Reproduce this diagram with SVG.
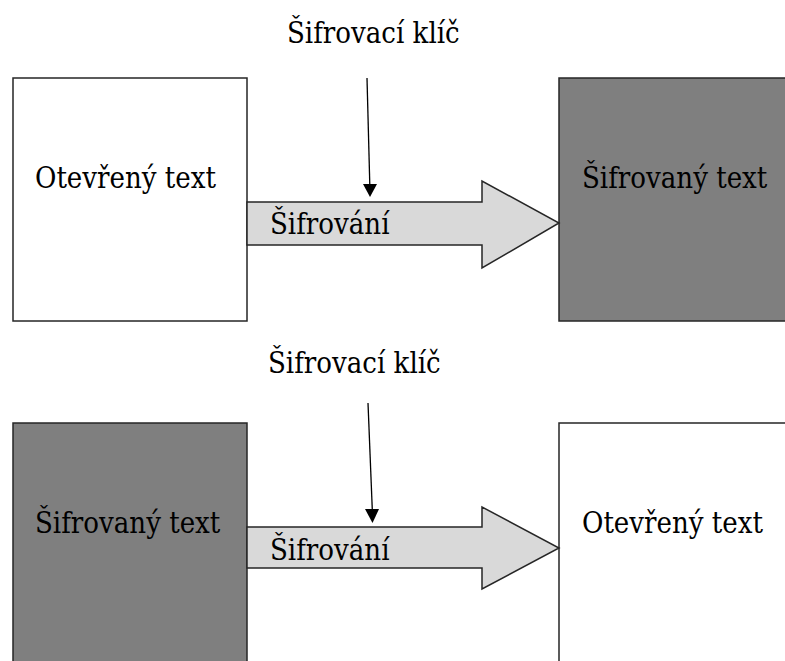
<svg xmlns="http://www.w3.org/2000/svg" width="785" height="661" viewBox="0 0 785 661">
  <style>
    .box { stroke: #262626; stroke-width: 1.5; }
    .plain { fill: #ffffff; }
    .dark { fill: #7f7f7f; }
    .flow { fill: #d9d9d9; stroke: #262626; stroke-width: 1.5; stroke-linejoin: miter; }
    .key { stroke: #000000; stroke-width: 1.3; fill: none; }
    text { font-family: 'DejaVu Serif Condensed', 'DejaVu Serif', 'Liberation Serif', serif; font-stretch: condensed; font-size: 29px; fill: #000000; }
  </style>
  <rect width="785" height="661" fill="#ffffff"/>

  <!-- upper row: encryption -->
  <g id="plain-top">
    <rect class="box plain" x="13" y="78" width="234" height="243"/>
    <text x="35" y="188">Otevřený text</text>
  </g>
  <g id="cipher-top">
    <rect class="box dark" x="559" y="78" width="240" height="243"/>
    <text x="582" y="188">Šifrovaný text</text>
  </g>
  <g id="key-top">
    <text x="287" y="43">Šifrovací klíč</text>
  </g>

  <!-- lower row: decryption -->
  <g id="cipher-bottom">
    <rect class="box dark" x="13" y="423" width="234" height="250"/>
    <text x="35" y="533">Šifrovaný text</text>
  </g>
  <g id="plain-bottom">
    <rect class="box plain" x="559" y="423" width="240" height="250"/>
    <text x="582" y="533">Otevřený text</text>
  </g>
  <g id="key-bottom">
    <text x="268" y="373">Šifrovací klíč</text>
  </g>

  <g id="connectors">
    <g id="flow-top">
      <path class="flow" d="M247,202 L482,202 L482,181 L559,223 L482,268 L482,245 L247,245 Z"/>
      <text x="270" y="234">Šifrování</text>
    </g>
    <g id="flow-bottom">
      <path class="flow" d="M247,527 L482,527 L482,507 L559,548 L482,589 L482,568 L247,568 Z"/>
      <text x="270" y="560">Šifrování</text>
    </g>
    <path class="key" d="M367,78 L369.8,185"/>
    <polygon points="363,184 377,184 370,197" fill="#000000"/>
    <path class="key" d="M368,403 L372.3,510"/>
    <polygon points="365,509 379,509 372.5,523" fill="#000000"/>
  </g>
</svg>
